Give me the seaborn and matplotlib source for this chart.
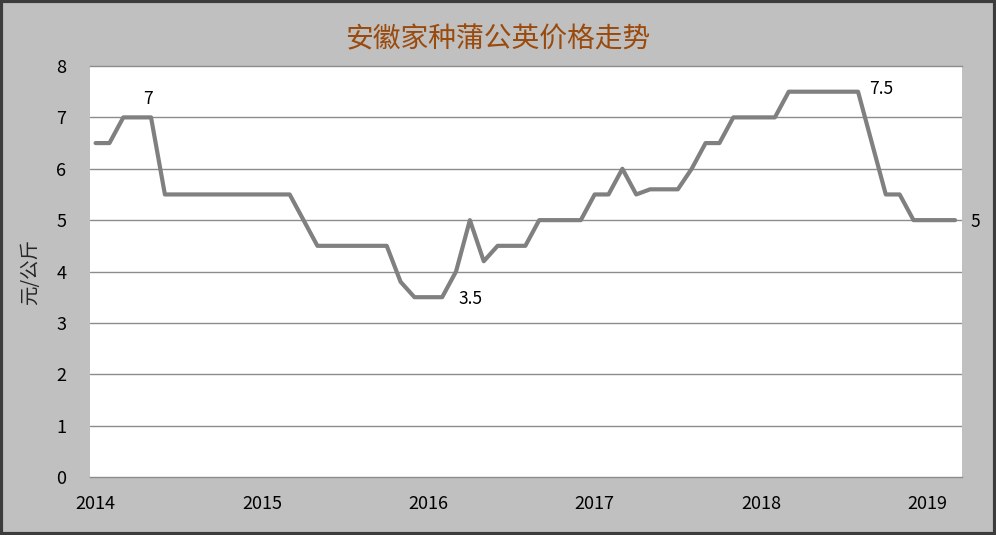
import numpy as np
import pandas as pd
import matplotlib
matplotlib.use('Agg')
import matplotlib.pyplot as plt
import seaborn as sns

# monthly price, Jan 2014 - Mar 2019 (元/公斤)
prices = [6.5, 6.5, 7.0, 7.0, 7.0, 5.5, 5.5, 5.5, 5.5, 5.5, 5.5, 5.5,
          5.5, 5.5, 5.5, 5.0, 4.5, 4.5, 4.5, 4.5, 4.5, 4.5, 3.8, 3.5,
          3.5, 3.5, 4.0, 5.0, 4.2, 4.5, 4.5, 4.5, 5.0, 5.0, 5.0, 5.0,
          5.5, 5.5, 6.0, 5.5, 5.6, 5.6, 5.6, 6.0, 6.5, 6.5, 7.0, 7.0,
          7.0, 7.0, 7.5, 7.5, 7.5, 7.5, 7.5, 7.5, 6.5, 5.5, 5.5, 5.0,
          5.0, 5.0, 5.0]
year_labels = ['2014', '2015', '2016', '2017', '2018', '2019']
year_pos = [0, 12, 24, 36, 48, 60]
# data labels: (index, text, offset in points)
labels = [(4, '7', (-2, 7), 'center'), (25, '3.5', (12, -1), 'left'),
          (55, '7.5', (8, 2), 'left'), (62, '5', (11, -1), 'left')]

df = pd.DataFrame({'idx': range(len(prices)), 'price': prices})

sns.set_theme(style='white')
plt.rcParams['font.family'] = ['Noto Sans CJK SC', 'DejaVu Sans']

bg = '#c0c0c0'
fig = plt.figure(figsize=(9.96, 5.35), dpi=100, facecolor=bg)
ax = fig.add_axes([0.0904, 0.1084, 0.8755, 0.7682])
ax.set_facecolor('white')

for v in range(1, 8):
    ax.axhline(v, color='#8c8c8c', lw=1.0, zorder=1)

sns.lineplot(data=df, x='idx', y='price', ax=ax, color='#808080', lw=3.0, zorder=3)

for i, txt, off, ha in labels:
    ax.annotate(txt, (i, prices[i]), xytext=off, textcoords='offset points',
                ha=ha, va='bottom' if ha == 'center' else 'center',
                fontsize=12.5, color='black', annotation_clip=False)

ax.set_xlim(-0.4, 62.5)
ax.set_ylim(0, 8)
ax.set_yticks(range(0, 9))
ax.set_xticks(year_pos)
ax.set_xticklabels(year_labels)
ax.tick_params(axis='both', length=0, labelsize=13, colors='black')
ax.tick_params(axis='x', pad=13)
ax.tick_params(axis='y', pad=17)
ax.set_xlabel('')
ax.set_ylabel('元/公斤', fontsize=14, labelpad=11)

for s in ['left', 'right']:
    ax.spines[s].set_visible(False)
for s in ['top', 'bottom']:
    ax.spines[s].set_color('#8c8c8c')
    ax.spines[s].set_linewidth(1.0)

fig.text(0.5, 0.926, '安徽家种蒲公英价格走势', ha='center', va='center',
         fontsize=20, color='#9a4a0c')

# outer frame
fig.patches.append(plt.Rectangle((0.0015, 0.0028), 0.997, 0.9944, transform=fig.transFigure,
                                 fill=False, edgecolor='#3c3c3c', lw=3))

fig.savefig('out.png', dpi=100, facecolor=bg)
